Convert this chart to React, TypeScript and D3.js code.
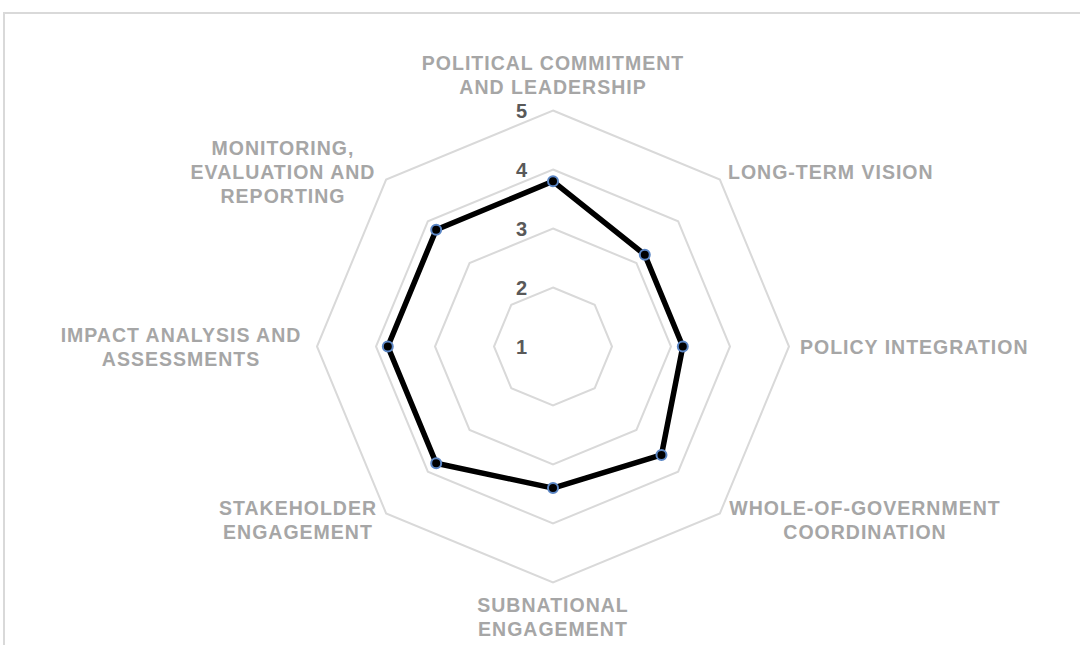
import React from "react";
import * as d3 from "d3";

const categories: string[][] = [
  ["POLITICAL COMMITMENT", "AND LEADERSHIP"],
  ["LONG-TERM VISION"],
  ["POLICY INTEGRATION"],
  ["WHOLE-OF-GOVERNMENT", "COORDINATION"],
  ["SUBNATIONAL", "ENGAGEMENT"],
  ["STAKEHOLDER", "ENGAGEMENT"],
  ["IMPACT ANALYSIS AND", "ASSESSMENTS"],
  ["MONITORING,", "EVALUATION AND", "REPORTING"],
];
const values: number[] = [3.8, 3.2, 3.2, 3.6, 3.4, 3.8, 3.8, 3.8];
const ticks: number[] = [1, 2, 3, 4, 5];

const W = 1080;
const H = 645;
const cx = 553;
const cy = 346.5;
const R = 236;

const labelPlacement: { x: number; y: number; anchor: "start" | "middle" | "end" }[] = [
  { x: 553, y: 63, anchor: "middle" },
  { x: 728, y: 172, anchor: "start" },
  { x: 800, y: 347, anchor: "start" },
  { x: 865, y: 508, anchor: "middle" },
  { x: 553, y: 605, anchor: "middle" },
  { x: 298, y: 508, anchor: "middle" },
  { x: 181, y: 335, anchor: "middle" },
  { x: 283, y: 148, anchor: "middle" },
];

export default function App() {
  const n = categories.length;
  const r = d3.scaleLinear().domain([1, 5]).range([0, R]);
  const angle = (i: number) => (i * 2 * Math.PI) / n;
  const pt = (i: number, v: number): [number, number] => [
    cx + r(v) * Math.sin(angle(i)),
    cy - r(v) * Math.cos(angle(i)),
  ];
  const lineGen = d3.line<[number, number]>().curve(d3.curveLinearClosed);
  const ringPaths = ticks
    .filter((t) => t > 1)
    .map((t) => lineGen(d3.range(n).map((i) => pt(i, t))) as string);
  const dataPath = lineGen(values.map((v, i) => pt(i, v))) as string;
  const font = "'Liberation Sans', Arial, sans-serif";

  return (
    <svg width={W} height={H} style={{ position: "absolute", left: 0, top: 0 }}>
      <rect x={0} y={0} width={W} height={H} fill="#fff" />
      <rect x={4} y={13} width={W + 20} height={H + 20} fill="none" stroke="#d9d9d9" strokeWidth={2} />
      {ringPaths.map((d, i) => (
        <path key={i} d={d} fill="none" stroke="#d9d9d9" strokeWidth={2} />
      ))}
      {ticks.map((t) => (
        <text
          key={t}
          x={cx - 26}
          y={cy - r(t)}
          dy="0.36em"
          textAnchor="end"
          fontFamily={font}
          fontWeight="bold"
          fontSize={20}
          fill="#595959"
        >
          {t}
        </text>
      ))}
      <path d={dataPath} fill="none" stroke="#000" strokeWidth={5.5} strokeLinejoin="round" />
      {values.map((v, i) => {
        const [x, y] = pt(i, v);
        return <circle key={i} cx={x} cy={y} r={5} fill="#000" stroke="#5b86c5" strokeWidth={2} />;
      })}
      {categories.map((lines, i) => {
        const p = labelPlacement[i];
        return (
          <text
            key={i}
            x={p.x}
            y={p.y}
            textAnchor={p.anchor}
            fontFamily={font}
            fontWeight="bold"
            fontSize={19.5}
            letterSpacing={1}
            fill="#a6a6a6"
          >
            {lines.map((l, j) => (
              <tspan key={j} x={p.x} y={p.y + j * 24} dy="0.36em">
                {l}
              </tspan>
            ))}
          </text>
        );
      })}
    </svg>
  );
}
